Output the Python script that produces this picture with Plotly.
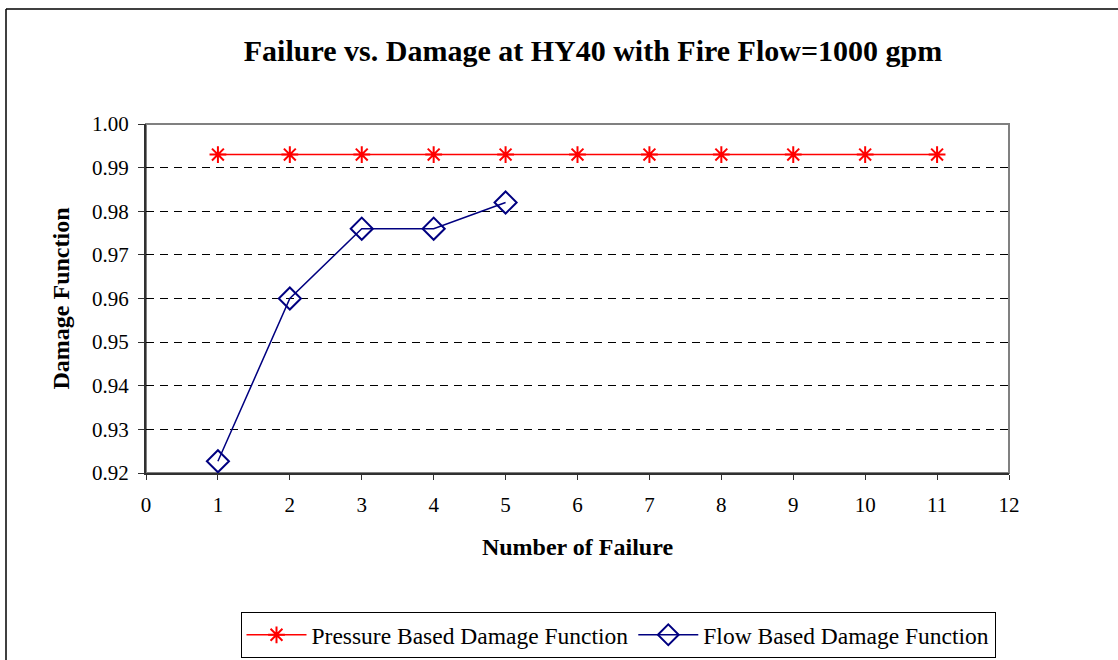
import plotly.graph_objects as go

x_failures = [1, 2, 3, 4, 5, 6, 7, 8, 9, 10, 11]
pressure_damage = [0.993, 0.993, 0.993, 0.993, 0.993, 0.993, 0.993, 0.993, 0.993, 0.993, 0.993]
x_flow = [1, 2, 3, 4, 5]
flow_damage = [0.9227, 0.960, 0.976, 0.976, 0.982]
y_ticks = [0.92, 0.93, 0.94, 0.95, 0.96, 0.97, 0.98, 0.99, 1.00]
x_ticks = list(range(0, 13))

FONT = "Liberation Serif, Times New Roman, serif"

fig = go.Figure()
fig.add_trace(go.Scatter(
    x=x_failures, y=pressure_damage, mode="lines+markers",
    name="Pressure Based Damage Function",
    line=dict(color="#FF0000", width=1.5),
    marker=dict(symbol="asterisk-open", size=14, line=dict(color="#FF0000", width=2), color="#FF0000"),
))
fig.add_trace(go.Scatter(
    x=x_flow, y=flow_damage, mode="lines+markers",
    name="Flow Based Damage Function",
    line=dict(color="#000080", width=1.5),
    marker=dict(symbol="diamond-open", size=17, line=dict(color="#000080", width=2), color="#000080"),
))

L, R, T, B = 146, 1009, 124, 473
W, H = 1118, 660
pw, ph = R - L, B - T

def px(x):
    return (x - L) / pw

def py(y):
    return (B - y) / ph

shapes = [
    dict(type="rect", xref="paper", yref="paper", x0=0, x1=1, y0=0, y1=1,
         line=dict(color="#808080", width=2), layer="below"),
    dict(type="line", xref="paper", yref="paper", x0=px(6), x1=px(1120), y0=py(9), y1=py(9),
         line=dict(color="black", width=1.5)),
    dict(type="line", xref="paper", yref="paper", x0=px(6), x1=px(6), y0=py(9), y1=py(665),
         line=dict(color="black", width=1.5)),
]

fig.update_layout(
    width=W, height=H,
    margin=dict(l=L, r=W - R, t=T, b=H - B, autoexpand=False),
    paper_bgcolor="white", plot_bgcolor="white",
    font=dict(family=FONT, color="black", size=20),
    title=dict(text="<b>Failure vs. Damage at HY40 with Fire Flow=1000 gpm</b>",
               x=(593) / W, xanchor="center", y=1 - 50 / H, yanchor="middle",
               font=dict(size=30, family=FONT)),
    showlegend=True,
    legend=dict(orientation="h", x=618 / W, xref="container", xanchor="center",
                y=1 - 612 / H, yref="container", yanchor="top",
                bordercolor="black", borderwidth=1, font=dict(size=23.5, family=FONT),
                itemwidth=60, tracegroupgap=0),
    shapes=shapes,
)
fig.update_xaxes(
    range=[0, 12], tickvals=x_ticks, showgrid=False, zeroline=False, automargin=False,
    showline=True, linecolor="#303030", linewidth=2,
    ticks="outside", ticklen=5, tickcolor="#303030", tickwidth=1,
    ticklabelstandoff=7,
    tickfont=dict(size=21, family=FONT),
    title=dict(text="<b>Number of Failure</b>", font=dict(size=24, family=FONT), standoff=22),
)
fig.update_yaxes(
    range=[0.92, 1.00], tickvals=y_ticks, tickformat=".2f", automargin=False,
    showgrid=True, gridcolor="black", gridwidth=1, griddash="8px,6px",
    zeroline=False, showline=True, linecolor="#303030", linewidth=2,
    ticks="outside", ticklen=6, tickcolor="#303030", tickwidth=1,
    ticklabelstandoff=5,
    tickfont=dict(size=21, family=FONT),
    title=dict(text="<b>Damage Function</b>", font=dict(size=24, family=FONT), standoff=16),
)

fig.write_html("out.html", config={"displayModeBar": False},
               post_script="document.body.style.margin='0';")
